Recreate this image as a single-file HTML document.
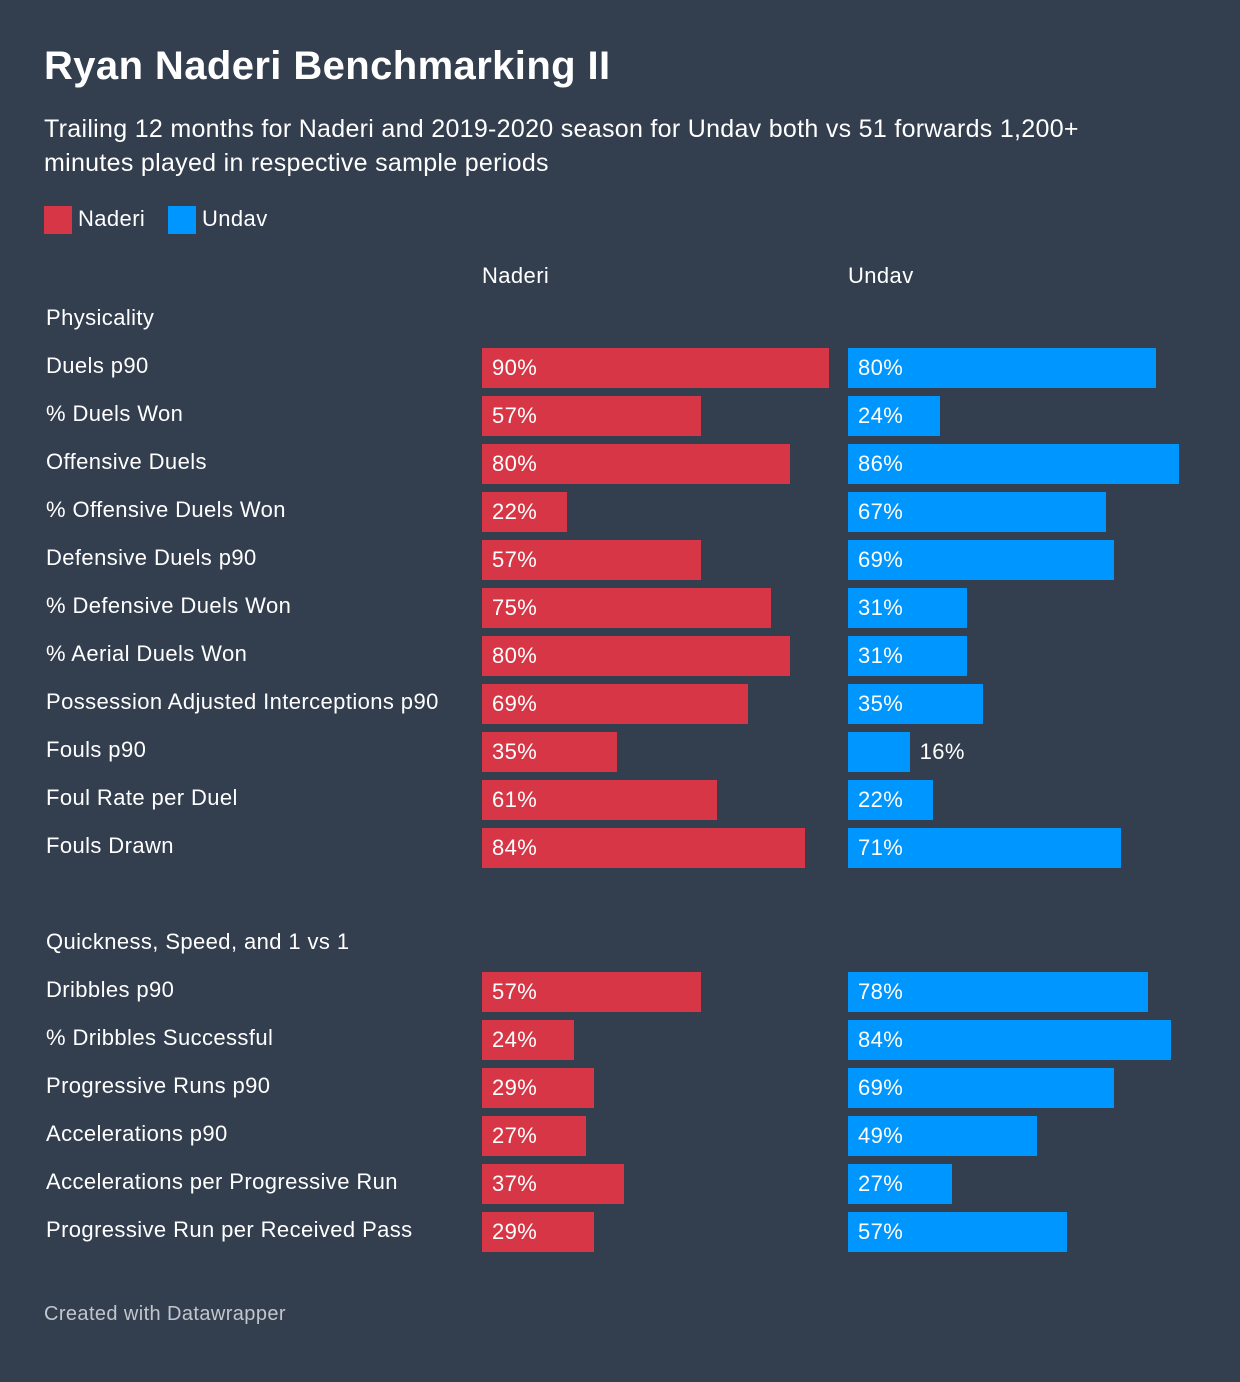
<!DOCTYPE html>
<html><head><meta charset="utf-8"><style>
body{margin:0;width:1240px;height:1382px;background:#333e4e;font-family:"Liberation Sans",sans-serif;color:#fff;position:relative;overflow:hidden}
.a{position:absolute;white-space:nowrap;letter-spacing:0.4px}
</style></head><body>
<div class="a" style="left:44px;top:44px;font-size:40px;font-weight:bold;letter-spacing:0.4px">Ryan Naderi Benchmarking II</div>
<div class="a" style="left:44px;top:112px;font-size:25px;line-height:34px;white-space:normal;width:1110px;letter-spacing:0.3px">Trailing 12 months for Naderi and 2019-2020 season for Undav both vs 51 forwards 1,200+ minutes played in respective sample periods</div>
<div class="a" style="left:44px;top:206px;font-size:22px"><span style="display:inline-block;width:28px;height:28px;background:#d73647;vertical-align:middle;margin-right:6px"></span>Naderi</div>
<div class="a" style="left:168px;top:206px;font-size:22px"><span style="display:inline-block;width:28px;height:28px;background:#0096ff;vertical-align:middle;margin-right:6px"></span>Undav</div>
<div class="a" style="left:482px;top:263px;font-size:22px">Naderi</div>
<div class="a" style="left:848px;top:263px;font-size:22px">Undav</div>
<div id="chart"></div>
<div class="a" style="left:44px;top:1303px;font-size:20px;color:#c2c6cc">Created with Datawrapper</div>
<script>
const sections = ["Physicality", "Quickness, Speed, and 1 vs 1"];
const categories1 = ["Duels p90","% Duels Won","Offensive Duels","% Offensive Duels Won","Defensive Duels p90","% Defensive Duels Won","% Aerial Duels Won","Possession Adjusted Interceptions p90","Fouls p90","Foul Rate per Duel","Fouls Drawn"];
const naderi1 = [90,57,80,22,57,75,80,69,35,61,84];
const undav1 = [80,24,86,67,69,31,31,35,16,22,71];
const categories2 = ["Dribbles p90","% Dribbles Successful","Progressive Runs p90","Accelerations p90","Accelerations per Progressive Run","Progressive Run per Received Pass"];
const naderi2 = [57,24,29,27,37,29];
const undav2 = [78,84,69,49,27,57];

const chart = document.getElementById('chart');
const scale = v => v * 3.85;
function mk(css, text){
  const d = document.createElement('div');
  d.className = 'a';
  d.style.cssText = css;
  if (text !== undefined) d.textContent = text;
  chart.appendChild(d);
  return d;
}
function bar(x, y, v, color){
  const w = scale(v);
  const b = mk(`left:${x}px;top:${y}px;width:${w}px;height:40px;background:${color}`);
  
  
  const inside = w > 70;
  const l = mk(`left:${inside ? x + 10 : x + w + 10}px;top:${y + 7}px;font-size:22px;line-height:26px`, v + '%');
  
  
}
function section(title, top, cats, n, u){
  const h = mk(`left:46px;top:${top - 46 + 3}px;font-size:22px;line-height:26px`, title);
  
  
  cats.forEach((c, i) => {
    const y = top + i * 48;
    const l = mk(`left:46px;top:${y + 5}px;font-size:22px;line-height:26px`, c);
    
    
    bar(482, y, n[i], '#d73647');
    bar(848, y, u[i], '#0096ff');
  });
}
section(sections[0], 348, categories1, naderi1, undav1);
section(sections[1], 972, categories2, naderi2, undav2);
</script>
</body></html>
